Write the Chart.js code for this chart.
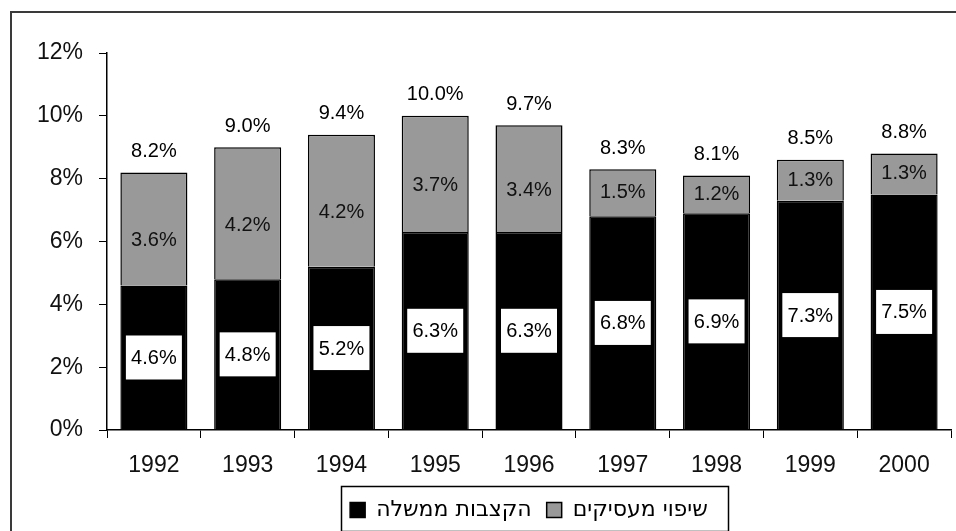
<!DOCTYPE html>
<html>
<head>
<meta charset="utf-8">
<script src="https://cdn.jsdelivr.net/npm/chart.js@4.4.0/dist/chart.umd.min.js"></script>
<style>
  html, body { margin: 0; padding: 0; background: #fff; }
  #wrap { width: 956px; height: 531px; }
</style>
</head>
<body>
<div id="wrap"><canvas id="chart" width="956" height="531"></canvas></div>
<script>
var years = ['1992', '1993', '1994', '1995', '1996', '1997', '1998', '1999', '2000'];
var govValues = [4.6, 4.8, 5.2, 6.3, 6.3, 6.8, 6.9, 7.3, 7.5];
var employerValues = [3.6, 4.2, 4.2, 3.7, 3.4, 1.5, 1.2, 1.3, 1.3];
var totalValues = [8.2, 9.0, 9.4, 10.0, 9.7, 8.3, 8.1, 8.5, 8.8];
var govLabel = 'הקצבות ממשלה';
var employerLabel = 'שיפוי מעסיקים';

var fontFamily = '"Liberation Sans", Arial, sans-serif';
var legendFont = '"DejaVu Sans", sans-serif';

function pct(v) {
    return v.toFixed(1) + '%';
}

// white page + the outer frame that runs off the right/bottom edge
var frame = {
    id: 'frame',
    beforeDraw: function (chart) {
        var ctx = chart.ctx;
        ctx.save();
        ctx.fillStyle = '#fff';
        ctx.fillRect(0, 0, chart.width, chart.height);
        ctx.strokeStyle = '#3a3a3a';
        ctx.lineWidth = 2;
        ctx.strokeRect(11, 12, 1000, 600);
        ctx.restore();
    }
};

var barLabels = {
    id: 'barLabels',
    afterDatasetsDraw: function (chart) {
        var ctx = chart.ctx;
        var govBars = chart.getDatasetMeta(0).data;
        var empBars = chart.getDatasetMeta(1).data;
        ctx.save();
        ctx.font = '20px ' + fontFamily;
        ctx.textAlign = 'center';
        ctx.textBaseline = 'middle';

        govBars.forEach(function (bar, i) {
            var cy = (bar.y + bar.base) / 2;
            ctx.fillStyle = '#fff';
            ctx.fillRect(bar.x - 28, cy - 22, 56, 44);
            ctx.fillStyle = '#000';
            ctx.fillText(pct(govValues[i]), bar.x, cy + 1);
        });

        empBars.forEach(function (bar, i) {
            var h = bar.base - bar.y;
            var cy = (bar.y + bar.base) / 2 + (h > 80 ? 12 : 0);
            ctx.fillStyle = '#111';
            ctx.fillText(pct(employerValues[i]), bar.x, cy);
            ctx.fillStyle = '#000';
            ctx.fillText(pct(totalValues[i]), bar.x, bar.y - 21);
        });
        ctx.restore();
    }
};

// box round the legend
var legendBox = {
    id: 'legendBox',
    afterDraw: function (chart) {
        var legend = chart.legend;
        if (!legend || !legend.legendHitBoxes.length) return;
        var boxes = legend.legendHitBoxes;
        var first = boxes[0];
        var last = boxes[boxes.length - 1];
        var left = first.left - 9;
        var right = last.left + last.width + 20;
        var top = legend.top + 2;
        var bottom = legend.top + 47;
        var ctx = chart.ctx;
        ctx.save();
        ctx.strokeStyle = '#000';
        ctx.lineWidth = 1.5;
        ctx.strokeRect(Math.round(left) + 0.5, Math.round(top) + 0.5, Math.round(right - left), Math.round(bottom - top));
        ctx.restore();
    }
};

new Chart(
    document.getElementById('chart'),
    {
        type: 'bar',
        data: {
            labels: years,
            datasets: [
                {
                    label: govLabel,
                    data: govValues,
                    backgroundColor: '#000000',
                    borderColor: '#000000',
                    borderWidth: 1.5,
                    barPercentage: 0.715,
                    categoryPercentage: 1.0
                },
                {
                    label: employerLabel,
                    data: employerValues,
                    backgroundColor: '#999999',
                    borderColor: '#000000',
                    borderWidth: 1.5,
                    barPercentage: 0.715,
                    categoryPercentage: 1.0
                }
            ]
        },
        options: {
            responsive: false,
            animation: false,
            layout: {
                padding: { left: 0, top: 53, right: 5, bottom: 0 }
            },
            scales: {
                x: {
                    stacked: true,
                    afterFit: function (scale) { scale.height = 54; },
                    grid: {
                        display: true,
                        drawOnChartArea: false,
                        drawTicks: true,
                        tickLength: 8,
                        color: '#000'
                    },
                    border: { color: '#000', width: 1.5 },
                    ticks: {
                        color: '#111',
                        padding: 14,
                        font: { family: fontFamily, size: 23 }
                    }
                },
                y: {
                    stacked: true,
                    min: 0,
                    max: 12,
                    afterFit: function (scale) { scale.width = 107; },
                    grid: {
                        display: true,
                        drawOnChartArea: false,
                        drawTicks: true,
                        tickLength: 8,
                        color: '#000'
                    },
                    border: { color: '#000', width: 1.5 },
                    ticks: {
                        stepSize: 2,
                        color: '#111',
                        padding: 16,
                        font: { family: fontFamily, size: 23 },
                        callback: function (v) { return v + '%'; }
                    }
                }
            },
            plugins: {
                legend: {
                    position: 'bottom',
                    fullSize: false,
                    labels: {
                        boxWidth: 15,
                        boxHeight: 15,
                        padding: 15,
                        color: '#000',
                        font: { family: legendFont, size: 22 }
                    }
                },
                tooltip: { enabled: false }
            }
        },
        plugins: [frame, barLabels, legendBox]
    }
);
</script>
</body>
</html>
